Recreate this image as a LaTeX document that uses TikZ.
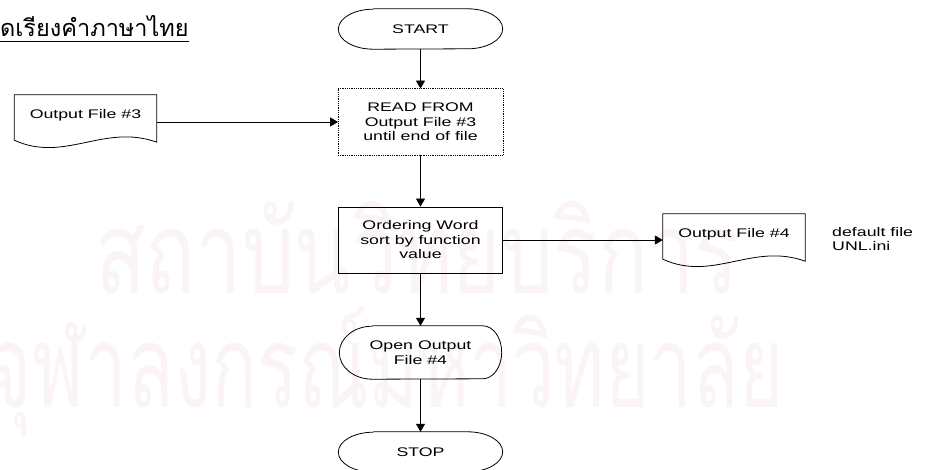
\documentclass[tikz,border=0pt]{standalone}
\usepackage{fontspec}
\setmainfont{Liberation Sans}[FakeStretch=1.42]
\newfontfamily\thaifont[Script=Thai]{Loma}
\newfontfamily\markfont[Script=Thai,FakeStretch=0.72]{Loma}
\usetikzlibrary{arrows.meta}
\definecolor{markpink}{rgb}{0.985,0.955,0.965}
\tikzset{%
    flow/.style={-{Triangle[length=8pt,width=9pt]}, line width=0.8pt},
    txt/.style={align=center, inner sep=0pt, font=\fontsize{12.5}{14.5}\selectfont},
    procbox/.style={txt, draw, line width=0.8pt, minimum width=164pt, minimum height=66pt},
    terminal/.style={txt, minimum width=164pt, minimum height=40pt,
        append after command={\pgfextra{\let\termnode\tikzlastnode
            \draw[line width=0.8pt] ([xshift=35pt]\termnode.north west) -- ([xshift=-35pt]\termnode.north east)
                arc[start angle=90, end angle=-90, x radius=35pt, y radius=20pt]
                -- ([xshift=35pt]\termnode.south west)
                arc[start angle=270, end angle=90, x radius=35pt, y radius=20pt];}}},
    docshape/.style={txt, minimum width=142pt, minimum height=40pt,
        append after command={\pgfextra{\let\docnode\tikzlastnode
            \draw[line width=0.8pt] ([yshift=-5pt]\docnode.south west) -- (\docnode.north west)
                -- (\docnode.north east) -- ([yshift=-7pt]\docnode.south east)
                .. controls ([xshift=90pt,yshift=12pt]\docnode.south west)
                and ([xshift=50pt,yshift=-28pt]\docnode.south west) .. ([yshift=-5pt]\docnode.south west);}}},
    display/.style={txt, minimum width=162pt, minimum height=53pt,
        append after command={\pgfextra{\let\dispnode\tikzlastnode
            \draw[line width=0.8pt] ([xshift=33pt]\dispnode.north west) -- ([xshift=-19pt]\dispnode.north east)
                arc[start angle=90, end angle=-90, x radius=19pt, y radius=26.5pt]
                -- ([xshift=33pt]\dispnode.south west)
                arc[start angle=270, end angle=90, x radius=33pt, y radius=26.5pt];}}},
    wmark/.style={inner sep=0pt, text=markpink, font=\markfont\fontsize{115}{115}\selectfont}
}

\begin{document}
\begin{tikzpicture}[x=1pt,y=-1pt]
        \useasboundingbox (0,0) rectangle (928,470);

        % watermark
        \node[wmark, anchor=base west] (mark1) at (95,293) {สถาบันวิทยบริการ};
        \node[wmark, anchor=base east, xscale=0.92] (mark2) at (784,407) {จุฬาลงกรณ์มหาวิทยาลัย};

        \node[anchor=base west, inner sep=0pt, font=\thaifont\fontsize{23.5}{26}\selectfont] (title) at (0,37) {ดเรียงคำภาษาไทย};
        \draw[line width=0.8pt] ([yshift=-4pt]title.base west) -- ([yshift=-4pt]title.base east);

        \node[terminal] (start) at (420.5,29) {START};
        \node[procbox, draw=none] (read) at (420.5,122) {READ FROM\\Output File \#3\\until end of file};
        \draw[line width=0.8pt, densely dotted] (read.north west) rectangle (read.south east);
        \node[docshape] (file3) at (85.5,115) {Output File \#3};

        \node[procbox] (order) at (420.5,240) {Ordering Word\\sort by function\\value};
        \node[docshape] (file4) at (734,234) {Output File \#4};
        \node[txt, align=left, anchor=west] (note) at (832,239) {default file\\UNL.ini};

        \node[display] (open) at (420.5,352.5) {Open Output\\File \#4};
        \node[terminal] (stop) at (420.5,452) {STOP};

        \draw[flow] (start) -- (read);
        \draw[flow] (read.west -| file3.east) -- (read.west);
        \draw[flow] (read) -- (order);
        \draw[flow] (order.east) -- (order.east -| file4.west);
        \draw[flow] (order) -- (open);
        \draw[flow] (open) -- (stop);
    \end{tikzpicture}
\end{document}
